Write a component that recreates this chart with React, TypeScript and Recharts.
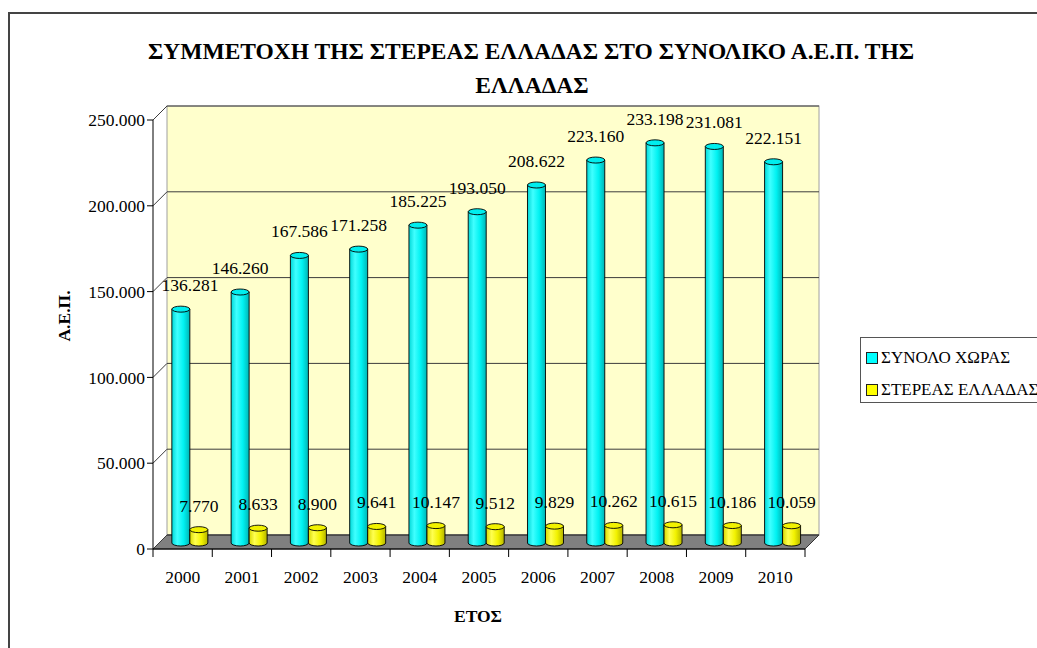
import React from "react";
import { Bar, BarChart, CartesianGrid, LabelList, Legend, XAxis, YAxis } from "recharts";

const YEARS = ["2000", "2001", "2002", "2003", "2004", "2005", "2006", "2007", "2008", "2009", "2010"];
// ΑΕΠ σε εκατ. ευρώ
const TOTAL_COUNTRY = [136281, 146260, 167586, 171258, 185225, 193050, 208622, 223160, 233198, 231081, 222151];
const STEREA = [7770, 8633, 8900, 9641, 10147, 9512, 9829, 10262, 10615, 10186, 10059];
const Y_TICKS = [0, 50000, 100000, 150000, 200000, 250000];

const SERIES = [
  { key: "total", name: "ΣΥΝΟΛΟ ΧΩΡΑΣ", color: "#00FFFF", top: "#00EEEE", grad: "cylCyan" },
  { key: "sterea", name: "ΣΤΕΡΕΑΣ ΕΛΛΑΔΑΣ", color: "#FFFF00", top: "#F2F200", grad: "cylYellow" },
];

const data = YEARS.map((year, i) => ({ year, total: TOTAL_COUNTRY[i], sterea: STEREA[i] }));

const FONT = '"Liberation Serif", "DejaVu Serif", serif';
const W = 1100;
const H = 660;
// front plane of the 3d box (chart coords)
const PLOT = { left: 143, top: 106, right: 795, bottom: 535 };
const DEPTH = { x: 14, y: -14 };
const BAR_SHIFT = { x: 7, y: -6 }; // bars stand in the middle of the floor
const X_AXIS_H = 30;
const Y_AXIS_W = 60;

const grNum = (v: number) => String(v).replace(/\B(?=(\d{3})+(?!\d))/g, ".");

function Cylinder(props: any) {
  const { x, y, width, height, grad, top } = props;
  if (!width || height == null) return null;
  const left = x + BAR_SHIFT.x;
  const t = y + BAR_SHIFT.y;
  const b = t + height;
  const rx = width / 2;
  const ry = 3;
  const d = `M${left},${t} L${left},${b} A${rx},${ry} 0 0 0 ${left + width},${b} L${left + width},${t} Z`;
  return (
    <g>
      <path d={d} fill={`url(#${grad})`} stroke="#000" strokeWidth={0.9} />
      <ellipse cx={left + rx} cy={t} rx={rx} ry={ry} fill={top} stroke="#000" strokeWidth={0.9} />
    </g>
  );
}

function valueLabel(p: any) {
  const vb = p.viewBox || p;
  const x = vb.x ?? p.x;
  const y = vb.y ?? p.y;
  const width = vb.width ?? p.width;
  if (x == null || p.value == null) return null;
  // keep the label clear of the value axis, as Excel does
  const cx = Math.max(x + width / 2 + BAR_SHIFT.x, PLOT.left + 37);
  return (
    <text x={cx} y={y + BAR_SHIFT.y - 18} textAnchor="middle" fontSize={17.5} fontFamily={FONT} fill="#000">
      {grNum(p.value)}
    </text>
  );
}

function YearTick(props: any) {
  const { x, y, payload, index } = props;
  const half = payload?.offset > 0 ? payload.offset : (PLOT.right - PLOT.left) / YEARS.length / 2;
  return (
    <g>
      {index === 0 && <line x1={x - half} y1={y} x2={x - half} y2={y + 8} stroke="#000" />}
      <line x1={x + half} y1={y} x2={x + half} y2={y + 8} stroke="#000" />
      <text x={x} y={y + 34} textAnchor="middle" fontSize={17.5} fontFamily={FONT} fill="#000">
        {payload.value}
      </text>
    </g>
  );
}

// wall + side-wall gridline drawn one depth step behind the front plane
function BackGridLine(props: any) {
  const { x1, y1, x2, y2 } = props;
  return (
    <polyline
      points={`${x1},${y1} ${x1 + DEPTH.x},${y1 + DEPTH.y} ${x2 + DEPTH.x},${y2 + DEPTH.y}`}
      fill="none"
      stroke="#3c3c3c"
      strokeWidth={1}
    />
  );
}

function LegendBox() {
  return (
    <div
      style={{
        position: "relative",
        width: 210,
        height: 64,
        border: "1px solid #555",
        background: "#fff",
        fontFamily: FONT,
        fontSize: 17,
        color: "#000",
      }}
    >
      {SERIES.map((s, i) => (
        <div key={s.key} style={{ position: "absolute", left: 5, top: 10 + i * 32, height: 20, display: "flex", alignItems: "center", whiteSpace: "nowrap" }}>
          <span style={{ display: "inline-block", width: 10, height: 10, background: s.color, border: "1px solid #222", marginRight: 3 }} />
          {s.name}
        </div>
      ))}
    </div>
  );
}

export default function App() {
  const wallW = PLOT.right - PLOT.left;
  const wallH = PLOT.bottom - PLOT.top;
  return (
    <div style={{ position: "fixed", left: 8, top: 12, width: 1029, height: 636, overflow: "hidden" }}>
      <div style={{ position: "relative", width: W, height: H, border: "2px solid #444", background: "#fff" }}>
        <svg width={W} height={H} style={{ position: "absolute", left: 0, top: 0 }}>
          <rect
            x={PLOT.left + DEPTH.x}
            y={PLOT.top + DEPTH.y}
            width={wallW}
            height={wallH}
            fill="#FFFFCC"
            stroke="#a0a0a0"
          />
          <polygon
            points={`${PLOT.left},${PLOT.bottom} ${PLOT.right},${PLOT.bottom} ${PLOT.right + DEPTH.x},${PLOT.bottom + DEPTH.y} ${PLOT.left + DEPTH.x},${PLOT.bottom + DEPTH.y}`}
            fill="#808080"
            stroke="#333"
          />
          <g fontFamily={FONT} fontWeight="bold" fill="#000">
            <text x={521} y={45} fontSize={23.5} textAnchor="middle">
              ΣΥΜΜΕΤΟΧΗ ΤΗΣ ΣΤΕΡΕΑΣ ΕΛΛΑΔΑΣ ΣΤΟ ΣΥΝΟΛΙΚΟ Α.Ε.Π. ΤΗΣ
            </text>
            <text x={522} y={79} fontSize={23.5} textAnchor="middle">
              ΕΛΛΑΔΑΣ
            </text>
            <text transform="translate(60,302) rotate(-90)" fontSize={17.5} textAnchor="middle">
              Α.Ε.Π.
            </text>
            <text x={468} y={608} fontSize={17.5} textAnchor="middle">
              ΕΤΟΣ
            </text>
          </g>
        </svg>
        <div style={{ position: "absolute", left: 0, top: 0 }}>
          <BarChart
            width={W}
            height={H}
            data={data}
            margin={{ top: PLOT.top, left: PLOT.left - Y_AXIS_W, right: W - PLOT.right, bottom: H - PLOT.bottom - X_AXIS_H }}
            barCategoryGap="20%"
            barGap={0}
          >
            <defs>
              <linearGradient id="cylCyan" x1="0" y1="0" x2="1" y2="0">
                <stop offset="0%" stopColor="#00D8D8" />
                <stop offset="30%" stopColor="#40FFFF" />
                <stop offset="65%" stopColor="#00F2F2" />
                <stop offset="100%" stopColor="#00B4B4" />
              </linearGradient>
              <linearGradient id="cylYellow" x1="0" y1="0" x2="1" y2="0">
                <stop offset="0%" stopColor="#D8D800" />
                <stop offset="30%" stopColor="#FFFF50" />
                <stop offset="65%" stopColor="#F2F200" />
                <stop offset="100%" stopColor="#B4B400" />
              </linearGradient>
            </defs>
            <CartesianGrid vertical={false} horizontal={(p: any) => <BackGridLine key={p.key} {...p} />} />
            <XAxis
              dataKey="year"
              height={X_AXIS_H}
              tickSize={0}
              tickMargin={0}
              tickLine={false}
              axisLine={{ stroke: "#000" }}
              tick={<YearTick />}
              interval={0}
            />
            <YAxis
              width={Y_AXIS_W}
              domain={[0, 250000]}
              ticks={Y_TICKS}
              interval={0}
              tickFormatter={grNum}
              axisLine={{ stroke: "#000" }}
              tickLine={{ stroke: "#000" }}
              tick={{ fill: "#000", fontSize: 17.5, fontFamily: FONT }}
            />
            <Legend
              align="center"
              verticalAlign="middle"
              layout="vertical"
              wrapperStyle={{ left: 850, top: 323, width: 212, height: 66 }}
              content={() => <LegendBox />}
            />
            {SERIES.map((s) => (
              <Bar
                key={s.key}
                dataKey={s.key}
                name={s.name}
                fill={s.color}
                isAnimationActive={false}
                shape={(p: any) => <Cylinder {...p} grad={s.grad} top={s.top} />}
              >
                <LabelList dataKey={s.key} content={valueLabel} />
              </Bar>
            ))}
          </BarChart>
        </div>
      </div>
    </div>
  );
}
